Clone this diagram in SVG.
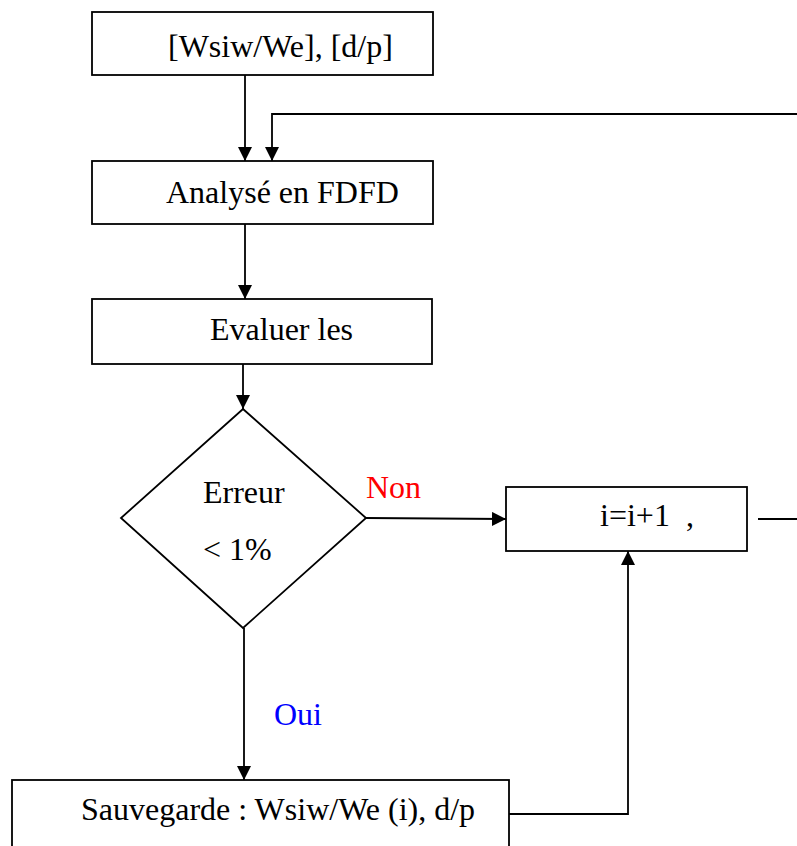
<svg xmlns="http://www.w3.org/2000/svg" width="797" height="846" viewBox="0 0 797 846">
<style>
.box{fill:#fff;stroke:#000;stroke-width:1.8}
.ln{fill:none;stroke:#000;stroke-width:1.8}
text{font-family:'Liberation Serif','Times New Roman',serif;font-size:32px;fill:#000}
</style>
<defs>
<marker id="ah" markerWidth="14" markerHeight="14" viewBox="0 0 14 14" refX="14" refY="7" orient="auto" markerUnits="userSpaceOnUse">
<path d="M0,0 L14,7 L0,14 Z" fill="#000"/>
</marker>
</defs>
<rect width="797" height="846" fill="#fff"/>
<g id="connectors">
<line class="ln" x1="245" y1="75" x2="245" y2="161" marker-end="url(#ah)"/>
<path class="ln" d="M797,114 H272 V161" marker-end="url(#ah)"/>
<line class="ln" x1="245" y1="224" x2="245" y2="299" marker-end="url(#ah)"/>
<line class="ln" x1="243" y1="364" x2="243" y2="409" marker-end="url(#ah)"/>
<line class="ln" x1="366" y1="518" x2="506" y2="519" marker-end="url(#ah)"/>
<line class="ln" x1="244" y1="628" x2="244" y2="780" marker-end="url(#ah)"/>
<path class="ln" d="M509,814 H628 V551" marker-end="url(#ah)"/>
<line class="ln" x1="758" y1="519" x2="797" y2="519"/>
<text x="366" y="498" style="fill:#ff0000">Non</text>
<text x="274" y="725" style="fill:#0000ff">Oui</text>
</g>
<g id="n1">
<rect class="box" x="92" y="12" width="341" height="63"/>
<text x="168" y="57">[Wsiw/We], [d/p]</text>
</g>
<g id="n2">
<rect class="box" x="92" y="161" width="341" height="63"/>
<text x="166" y="203">Analysé en FDFD</text>
</g>
<g id="n3">
<rect class="box" x="92" y="299" width="340" height="65"/>
<text x="210" y="340">Evaluer les</text>
</g>
<g id="n4">
<polygon class="box" points="243,409 366,518 243,628 121,518"/>
<text x="203" y="503">Erreur</text>
<text x="203" y="560">&lt; 1%</text>
</g>
<g id="n5">
<rect class="box" x="506" y="487" width="241" height="64"/>
<text x="600" y="526">i=i+1<tspan x="686">,</tspan></text>
</g>
<g id="n6">
<rect class="box" x="12" y="780" width="497" height="90"/>
<text x="81" y="820">Sauvegarde : Wsiw/We (i), d/p</text>
</g>
</svg>
